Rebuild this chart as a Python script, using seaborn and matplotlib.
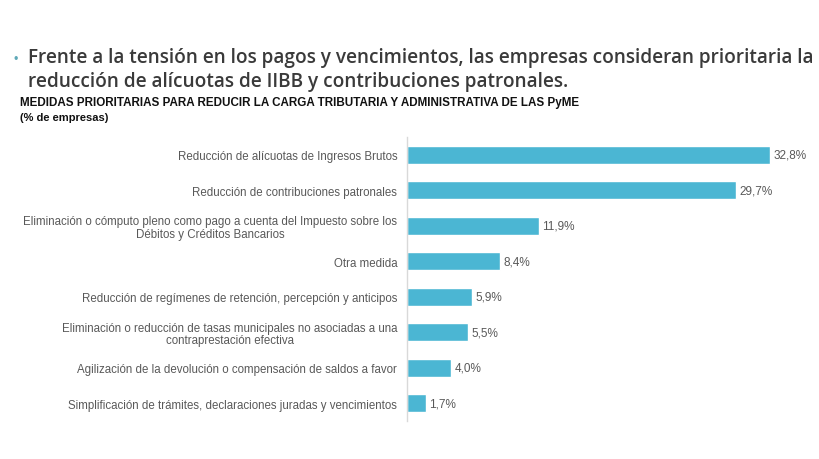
import matplotlib
matplotlib.use("Agg")
import matplotlib.pyplot as plt
import seaborn as sns
import pandas as pd

# =====================================================
# DATA
# =====================================================

medidas = [
    "Reducción de alícuotas de Ingresos Brutos",
    "Reducción de contribuciones patronales",
    "Eliminación o cómputo pleno como pago a cuenta del Impuesto sobre los\nDébitos y Créditos Bancarios",
    "Otra medida",
    "Reducción de regímenes de retención, percepción y anticipos",
    "Eliminación o reducción de tasas municipales no asociadas a una\ncontraprestación efectiva",
    "Agilización de la devolución o compensación de saldos a favor",
    "Simplificación de trámites, declaraciones juradas y vencimientos",
]
porcentajes = [32.8, 29.7, 11.9, 8.4, 5.9, 5.5, 4.0, 1.7]
etiquetas = ["32,8%", "29,7%", "11,9%", "8,4%", "5,9%", "5,5%", "4,0%", "1,7%"]

titulo = ("Frente a la tensión en los pagos y vencimientos, las empresas consideran prioritaria la\n"
          "reducción de alícuotas de IIBB y contribuciones patronales.")
subtitulo = "MEDIDAS PRIORITARIAS PARA REDUCIR LA CARGA TRIBUTARIA Y ADMINISTRATIVA DE LAS PyME"
unidad = "(% de empresas)"

df = pd.DataFrame({"medida": medidas, "pct": porcentajes})

# =====================================================
# STYLE
# =====================================================

sns.set_theme(style="white")
plt.rcParams["font.family"] = ["Liberation Sans", "DejaVu Sans"]

W, H = 819, 460
fig = plt.figure(figsize=(W / 100, H / 100), dpi=100)
fig.patch.set_facecolor("white")

x0, x1 = 407, 790
y_top, y_bot = 138, 422
ax = fig.add_axes([x0 / W, 1 - y_bot / H, (x1 - x0) / W, (y_bot - y_top) / H])

sns.barplot(data=df, x="pct", y="medida", color="#4BB6D3", width=0.52,
            saturation=1, ax=ax, orient="h")

ax.set_xlim(0, 32.8 * (x1 - x0) / (770 - x0))
ax.set_ylim(7.5, -0.5)
ax.set_xlabel("")
ax.set_ylabel("")
ax.set_xticks([])
ax.tick_params(axis="y", length=0, pad=7)
for lbl in ax.get_yticklabels():
    lbl.set_multialignment("center")
    lbl.set_fontsize(8.3)
    lbl.set_color("#595959")
    lbl.set_linespacing(1.05)

for side in ["top", "right", "bottom"]:
    ax.spines[side].set_visible(False)
ax.spines["left"].set_color("#D9D9D9")
ax.spines["left"].set_linewidth(1)

for i, (v, t) in enumerate(zip(porcentajes, etiquetas)):
    ax.text(v + 0.3, i, t, va="center", ha="left", fontsize=8.5, color="#595959")

# =====================================================
# TITLES
# =====================================================

fig.text(13 / W, 1 - 60 / H, "•", fontsize=9, color="#5FA9B8", va="center", ha="left")
fig.text(28 / W, 1 - 70 / H, titulo, fontsize=13.7, color="#3A3A3A",
         family=["Open Sans", "DejaVu Sans"], fontweight="semibold",
         va="center", ha="left", linespacing=1.22)
fig.text(20 / W, 1 - 103 / H, subtitulo, fontsize=8.4, color="#111111",
         family=["Liberation Sans Narrow", "Liberation Sans"], fontweight="bold",
         va="center", ha="left")
fig.text(20 / W, 1 - 118 / H, unidad, fontsize=8, color="#111111",
         family=["Liberation Sans Narrow", "Liberation Sans"], fontweight="bold",
         va="center", ha="left")

fig.savefig("out.png", dpi=100)
